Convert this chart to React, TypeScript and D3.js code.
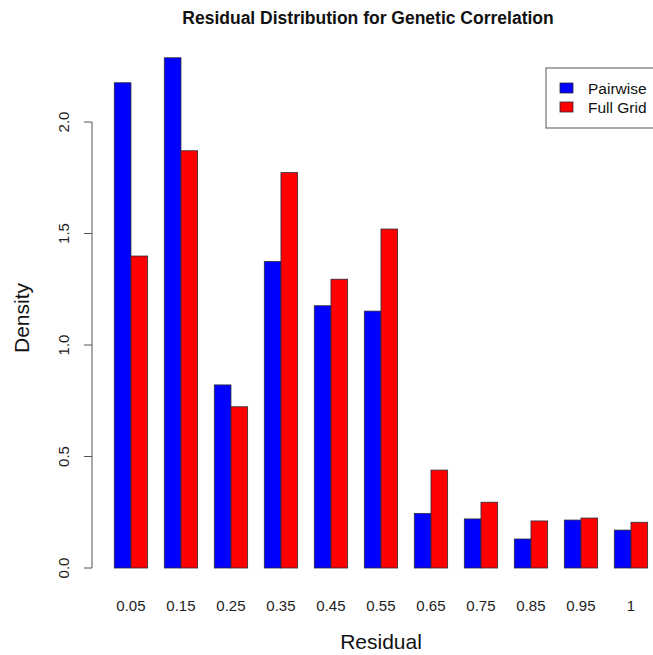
import React from "react";
import * as d3 from "d3";

const categories = ["0.05", "0.15", "0.25", "0.35", "0.45", "0.55", "0.65", "0.75", "0.85", "0.95", "1"];
const pairwise = [2.176, 2.288, 0.821, 1.374, 1.176, 1.152, 0.245, 0.22, 0.13, 0.215, 0.17];
const fullGrid = [1.399, 1.871, 0.723, 1.773, 1.295, 1.52, 0.439, 0.295, 0.211, 0.224, 0.205];
const seriesNames = ["Pairwise", "Full Grid"];
const seriesColors = ["#0000ff", "#ff0000"];
const yTicks = [0, 0.5, 1.0, 1.5, 2.0];

const W = 653;
const H = 655;
const FONT = "'Liberation Sans', Arial, Helvetica, sans-serif";

export default function App() {
  const y = d3.scaleLinear().domain([0, 2]).range([568, 122]);
  // R barplot units: each group = 2 bars + 1 space
  const x = d3.scaleLinear().domain([1, 34]).range([114.3, 114.3 + 33 * 16.667]);
  const series = [pairwise, fullGrid];

  return (
    <svg width={W} height={H} style={{ position: "absolute", left: 0, top: 0, background: "#fff" }} fontFamily={FONT}>
      <rect x={0} y={0} width={W} height={H} fill="#fff" />
      <text x={368} y={24} textAnchor="middle" fontWeight="bold" fontSize={17.5} fill="#111">
        Residual Distribution for Genetic Correlation
      </text>

      {categories.map((c, i) =>
        series.map((s, j) => {
          const u0 = 1 + 3 * i + j;
          return (
            <rect
              key={c + j}
              x={x(u0)}
              y={y(s[i])}
              width={x(u0 + 1) - x(u0)}
              height={y(0) - y(s[i])}
              fill={seriesColors[j]}
              stroke="#2a2a3a"
              strokeWidth={0.8}
            />
          );
        })
      )}

      {/* y axis */}
      <line x1={92} x2={92} y1={y(0)} y2={y(2)} stroke="#555" strokeWidth={1} />
      {yTicks.map((t) => (
        <g key={t}>
          <line x1={84} x2={92} y1={y(t)} y2={y(t)} stroke="#555" strokeWidth={1} />
          <text
            transform={`translate(69,${y(t)}) rotate(-90)`}
            textAnchor="middle"
            fontSize={15}
            fill="#222"
          >
            {t.toFixed(1)}
          </text>
        </g>
      ))}
      <text transform={`translate(29,318) rotate(-90)`} textAnchor="middle" fontSize={21} fill="#111">
        Density
      </text>

      {/* x labels */}
      {categories.map((c, i) => (
        <text key={c} x={x(2 + 3 * i)} y={611} textAnchor="middle" fontSize={15} fill="#222">
          {c}
        </text>
      ))}
      <text x={381} y={649} textAnchor="middle" fontSize={21} fill="#111">
        Residual
      </text>

      {/* legend */}
      <rect x={546} y={68} width={120} height={60} fill="#fff" stroke="#555" strokeWidth={1} />
      {seriesNames.map((n, j) => (
        <g key={n}>
          <rect x={560} y={83 + j * 19} width={13} height={10} fill={seriesColors[j]} stroke="#2a2a3a" strokeWidth={0.8} />
          <text x={588} y={94 + j * 19} fontSize={15.5} fill="#111">
            {n}
          </text>
        </g>
      ))}
    </svg>
  );
}
